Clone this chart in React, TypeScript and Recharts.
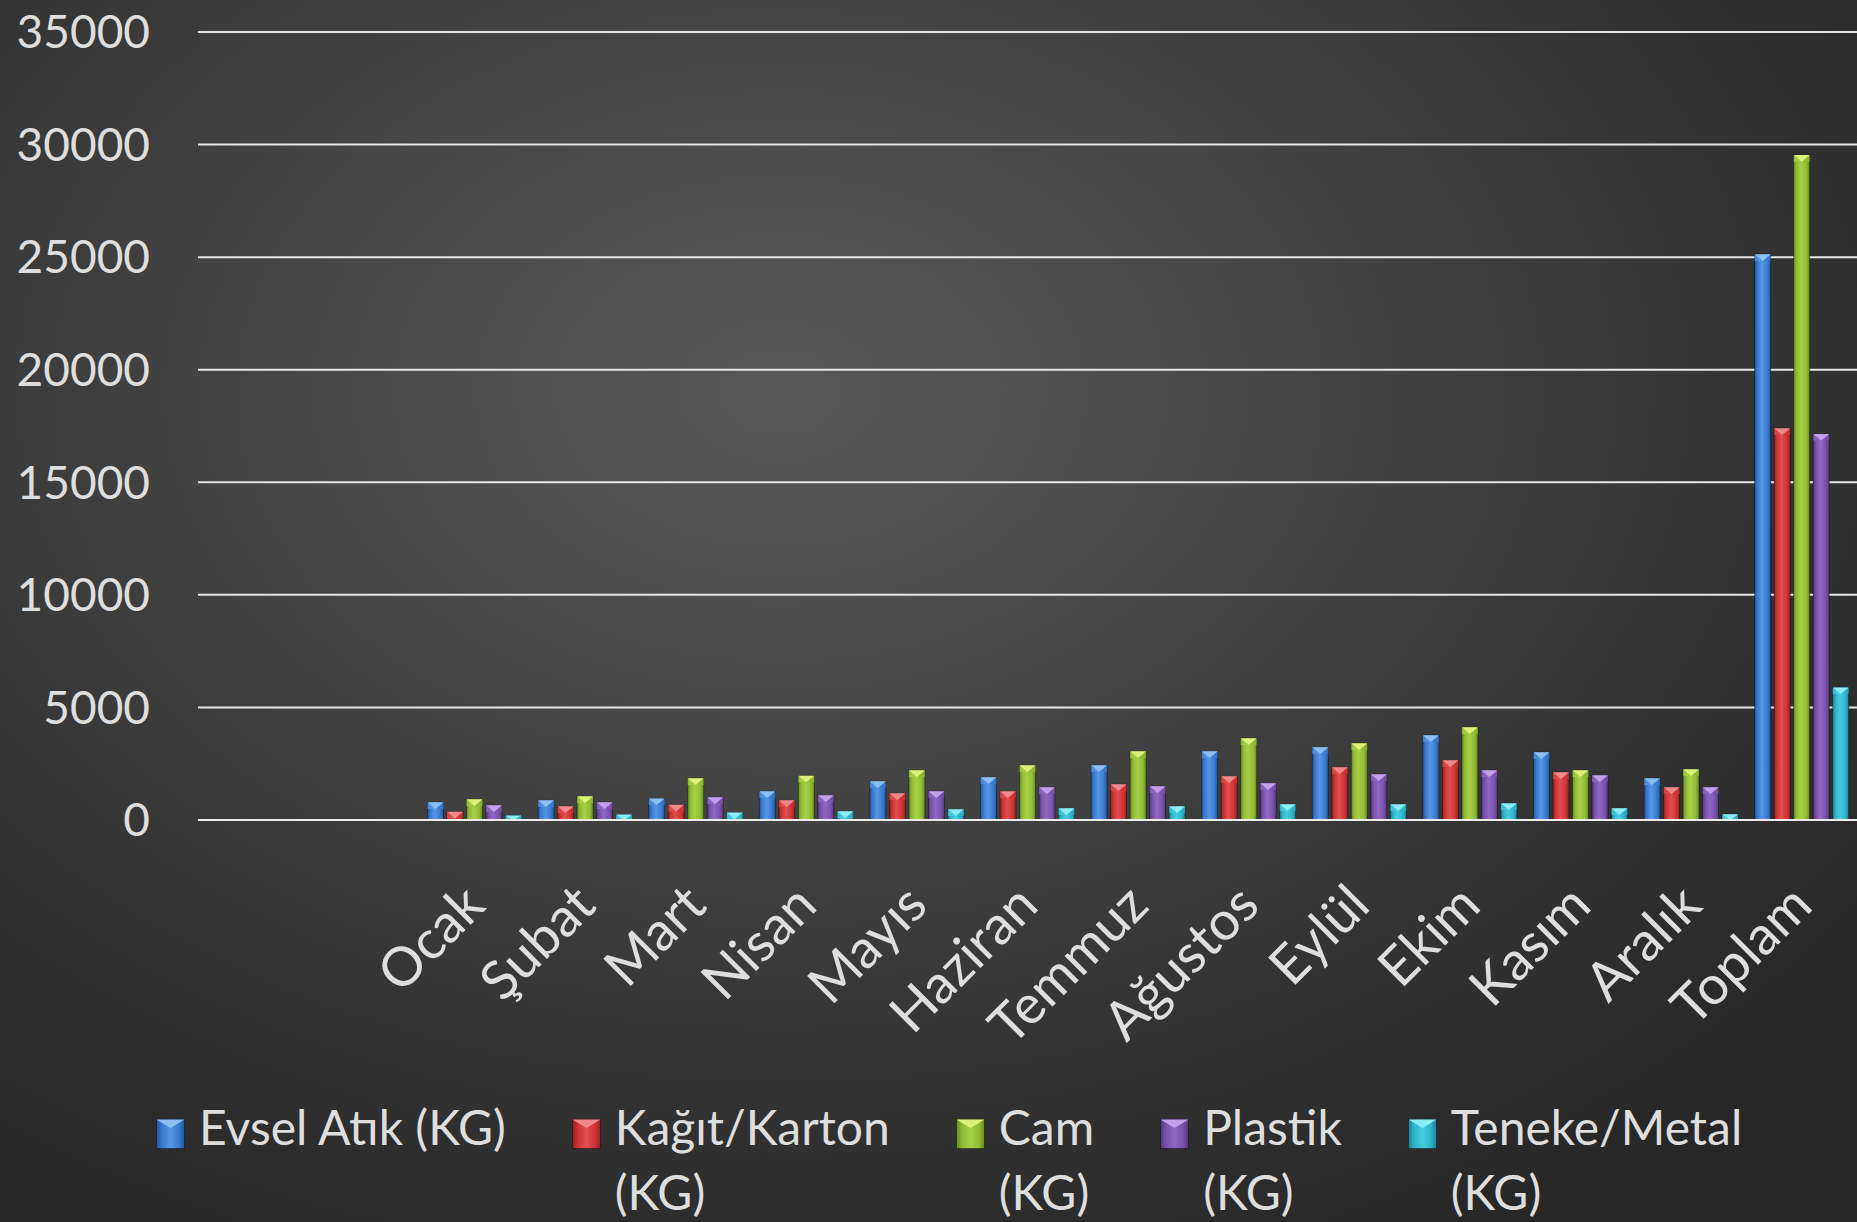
import React from "react";
import { BarChart, Bar, XAxis, YAxis, CartesianGrid } from "recharts";

// two empty slots before Ocak, as in the original sheet
const MONTHS = ["", "", "Ocak", "Şubat", "Mart", "Nisan", "Mayıs", "Haziran", "Temmuz", "Ağustos", "Eylül", "Ekim", "Kasım", "Aralık", "Toplam"];

const EVSEL = [null, null, 790, 875, 960, 1275, 1720, 1900, 2430, 3050, 3230, 3765, 3010, 1850, 25130];
const KAGIT = [null, null, 370, 610, 680, 875, 1185, 1275, 1590, 1940, 2340, 2650, 2120, 1450, 17400];
const CAM = [null, null, 920, 1050, 1850, 1970, 2210, 2430, 3050, 3630, 3410, 4120, 2210, 2250, 29540];
const PLASTIK = [null, null, 650, 790, 1010, 1095, 1275, 1450, 1500, 1630, 2030, 2210, 1985, 1450, 17150];
const METAL = [null, null, 200, 240, 330, 385, 475, 520, 610, 700, 700, 740, 520, 250, 5890];

const Y_TICKS = [0, 5000, 10000, 15000, 20000, 25000, 30000, 35000];

const SERIES = [
  { key: "evsel", name: "Evsel Atık (KG)", values: EVSEL },
  { key: "kagit", name: "Kağıt/Karton (KG)", values: KAGIT },
  { key: "cam", name: "Cam (KG)", values: CAM },
  { key: "plastik", name: "Plastik (KG)", values: PLASTIK },
  { key: "metal", name: "Teneke/Metal (KG)", values: METAL },
];

const COLORS: Record<string, { base: string; light: string; dark: string; cap: string }> = {
  evsel: { base: "#3a7bd0", light: "#5596e4", dark: "#24559a", cap: "#8cc0f5" },
  kagit: { base: "#cf3434", light: "#e24e4e", dark: "#962222", cap: "#f08a8a" },
  cam: { base: "#92bb36", light: "#a8d046", dark: "#668a20", cap: "#dcf07a" },
  plastik: { base: "#7a52ad", light: "#9068c4", dark: "#553878", cap: "#c4a0ec" },
  metal: { base: "#2fb3cc", light: "#45cde3", dark: "#1d7f93", cap: "#8cecf8" },
};

const data = MONTHS.map((m, i) => {
  const row: Record<string, string | number | null> = { month: m };
  SERIES.forEach((s) => (row[s.key] = s.values[i]));
  return row;
});

const TEXT = "#dedede";
const FONT = "Lato, 'Open Sans', sans-serif";

const Bar3D = (props: any) => {
  const { x, y, width, height, skey } = props;
  if (!height || height <= 0) return null;
  const c = COLORS[skey];
  const d = Math.min(width * 0.42, height);
  return (
    <g>
      <rect x={x} y={y} width={width} height={height} fill={`url(#g-${skey})`} stroke="rgba(0,0,0,0.45)" strokeWidth={0.8} />
      <polygon points={`${x},${y} ${x},${y + d} ${x + width / 2},${y + d}`} fill={c.light} opacity={0.7} />
      <polygon points={`${x + width},${y} ${x + width},${y + d} ${x + width / 2},${y + d}`} fill={c.base} opacity={0.7} />
      <polygon points={`${x},${y} ${x + width},${y} ${x + width / 2},${y + d}`} fill={c.cap} />
    </g>
  );
};

const MonthTick = (props: any) => {
  const { x, y, payload } = props;
  if (!payload || !payload.value) return null;
  const ax = x + 13;
  const ay = y + 80;
  return (
    <text x={ax} y={ay} transform={`rotate(-45, ${ax}, ${ay})`} textAnchor="end" fill={TEXT} fontSize={54} fontFamily={FONT}>
      {payload.value}
    </text>
  );
};

const Swatch = ({ skey }: { skey: string }) => {
  const c = COLORS[skey];
  return (
    <svg width={29} height={30} style={{ marginTop: 25, marginRight: 14, flex: "none" }}>
      <defs>
        <linearGradient id={`lg-${skey}`} x1="0" y1="0" x2="1" y2="0">
          <stop offset="0%" stopColor={c.dark} />
          <stop offset="20%" stopColor={c.base} />
          <stop offset="50%" stopColor={c.light} />
          <stop offset="80%" stopColor={c.base} />
          <stop offset="100%" stopColor={c.dark} />
        </linearGradient>
      </defs>
      <rect x={0.5} y={0.5} width={28} height={29} fill={`url(#lg-${skey})`} stroke="rgba(0,0,0,0.4)" />
      <polygon points="0.5,0.5 28.5,0.5 14.5,9" fill={c.cap} />
    </svg>
  );
};

export default function App() {
  return (
    <div
      style={{
        position: "absolute",
        left: 0,
        top: 0,
        width: 1857,
        height: 1222,
        overflow: "hidden",
        background: "radial-gradient(ellipse 75% 80% at 42% 32%, #595959 0%, #474747 35%, #333333 70%, #272727 100%)",
        fontFamily: FONT,
      }}
    >
      <BarChart
        width={1857}
        height={1222}
        data={data}
        margin={{ top: 32, right: 0, left: 0, bottom: 302 }}
        barCategoryGap="7.5%"
        barGap={3.5}
      >
        <defs>
          {SERIES.map((s) => {
            const c = COLORS[s.key];
            return (
              <linearGradient key={s.key} id={`g-${s.key}`} x1="0" y1="0" x2="1" y2="0">
                <stop offset="0%" stopColor={c.dark} />
                <stop offset="18%" stopColor={c.base} />
                <stop offset="45%" stopColor={c.light} />
                <stop offset="80%" stopColor={c.base} />
                <stop offset="100%" stopColor={c.dark} />
              </linearGradient>
            );
          })}
        </defs>
        <CartesianGrid vertical={false} stroke="#e6e6e6" strokeWidth={2} />
        <XAxis
          dataKey="month"
          interval={0}
          height={100}
          tickLine={false}
          axisLine={{ stroke: "#ececec", strokeWidth: 2 }}
          tick={<MonthTick />}
        />
        <YAxis
          width={198}
          domain={[0, 35000]}
          ticks={Y_TICKS}
          interval={0}
          axisLine={false}
          tickLine={false}
          tickMargin={42}
          tick={{ fill: TEXT, fontSize: 46, fontFamily: FONT }}
        />
        {SERIES.map((s) => (
          <Bar
            key={s.key}
            dataKey={s.key}
            name={s.name}
            fill={COLORS[s.key].base}
            isAnimationActive={false}
            shape={(p: any) => <Bar3D {...p} skey={s.key} />}
          />
        ))}
      </BarChart>

      <div
        style={{
          position: "absolute",
          left: 156,
          top: 1094,
          display: "flex",
          columnGap: 66,
          color: TEXT,
          fontSize: 48,
          lineHeight: "65px",
        }}
      >
        {SERIES.map((s, i) => (
          <div key={s.key} style={{ display: "flex", alignItems: "flex-start" }}>
            <Swatch skey={s.key} />
            <div style={{ whiteSpace: "pre-line" }}>{i === 0 ? s.name : s.name.replace(" (KG)", "\n(KG)")}</div>
          </div>
        ))}
      </div>
    </div>
  );
}
